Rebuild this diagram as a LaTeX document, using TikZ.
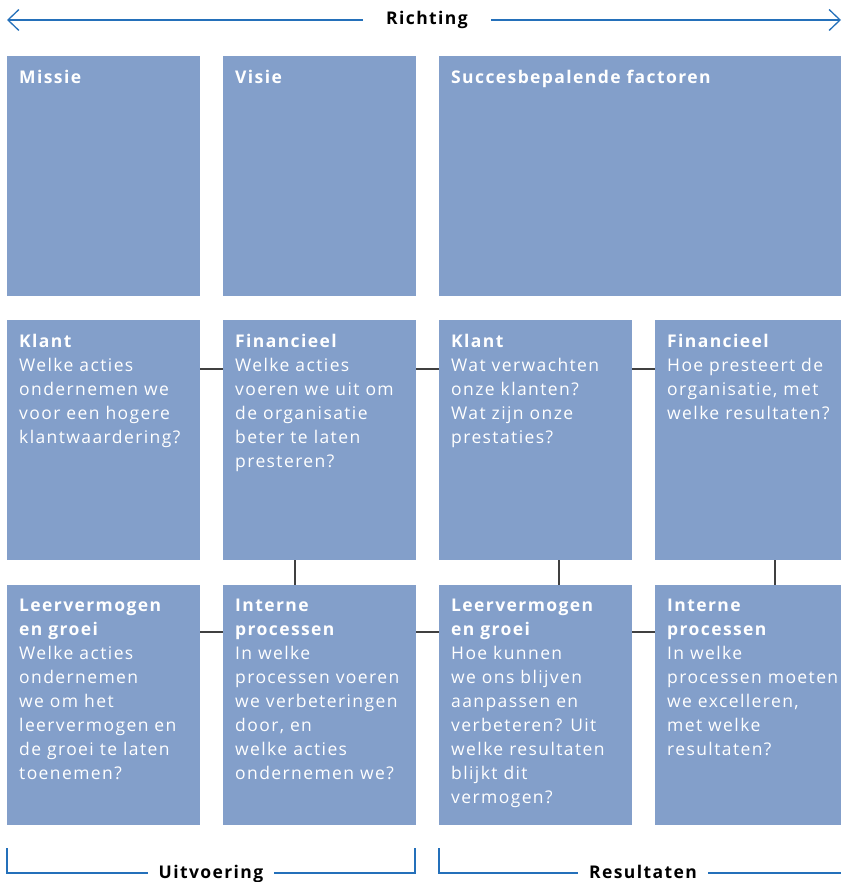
\documentclass[tikz,border=0pt]{standalone}
\usepackage{fontspec}
\setmainfont{Open Sans}[LetterSpace=8]
\usetikzlibrary{arrows.meta,positioning,calc}
\usepackage{xcolor}
\definecolor{vakblauw}{RGB}{131,159,202}
\definecolor{lijnblauw}{RGB}{36,112,186}
\definecolor{koppel}{RGB}{64,64,64}

\begin{document}
\begin{tikzpicture}[x=1pt,y=-1pt,
  vak/.style={rectangle,fill=vakblauw,anchor=north west,inner sep=0pt,
              minimum width=193pt,minimum height=240pt},
  vaktekst/.style={anchor=north west,inner sep=0pt,align=left,text=white,
                   font=\fontsize{17.5}{24}\selectfont},
  kop/.style={font=\fontsize{17.5}{24}\selectfont\bfseries,inner ysep=0pt},
  pijl/.style={-{Straight Barb[length=11pt,width=21pt]},line width=1.3pt,draw=lijnblauw},
  haak/.style={line width=1.4pt,draw=lijnblauw},
  koppeling/.style={line width=1.6pt,draw=koppel}
]
  \useasboundingbox (0,0) rectangle (841,882);

  % Richting
  \node[kop,inner xsep=23pt] (richting) at (427,20) {Richting};
  \coordinate (richtingL) at (7,20);
  \coordinate (richtingR) at (841,20);
  \draw[pijl] (richting.west) -- (richtingL);
  \draw[pijl] (richting.east) -- (richtingR);

  % Bovenste rij
  \node[vak] (missie) at (7,56)   {};
  \node[vak] (visie)  at (223,56) {};
  \node[vak,minimum width=402pt] (succes) at (439,56) {};
  \node[vaktekst] (missie-t) at ([shift={(12pt,-14pt)}]missie.north west) {\textbf{Missie}};
  \node[vaktekst] (visie-t)  at ([shift={(12pt,-14pt)}]visie.north west)  {\textbf{Visie}};
  \node[vaktekst] (succes-t) at ([shift={(12pt,-14pt)}]succes.north west) {\textbf{Succesbepalende factoren}};

  % Middelste rij
  \node[vak] (klant1) at (7,320)   {};
  \node[vak] (fin1)   at (223,320) {};
  \node[vak] (klant2) at (439,320) {};
  \node[vak,minimum width=186pt] (fin2) at (655,320) {};
  \node[vaktekst] (klant1-t) at ([shift={(12pt,-14pt)}]klant1.north west)
    {\textbf{Klant}\\Welke acties\\ondernemen we\\voor een hogere\\klantwaardering?};
  \node[vaktekst] (fin1-t) at ([shift={(12pt,-14pt)}]fin1.north west)
    {\textbf{Financieel}\\Welke acties\\voeren we uit om\\de organisatie\\beter te laten\\presteren?};
  \node[vaktekst] (klant2-t) at ([shift={(12pt,-14pt)}]klant2.north west)
    {\textbf{Klant}\\Wat verwachten\\onze klanten?\\Wat zijn onze\\prestaties?};
  \node[vaktekst] (fin2-t) at ([shift={(12pt,-14pt)}]fin2.north west)
    {\textbf{Financieel}\\Hoe presteert de\\organisatie, met\\welke resultaten?};

  % Onderste rij
  \node[vak] (leer1)   at (7,585)   {};
  \node[vak] (intern1) at (223,585) {};
  \node[vak] (leer2)   at (439,585) {};
  \node[vak,minimum width=186pt] (intern2) at (655,585) {};
  \node[vaktekst] (leer1-t) at ([shift={(12pt,-14pt)}]leer1.north west)
    {\textbf{Leervermogen}\\\textbf{en groei}\\Welke acties\\ondernemen\\we om het\\leervermogen en\\de groei te laten\\toenemen?};
  \node[vaktekst] (intern1-t) at ([shift={(12pt,-14pt)}]intern1.north west)
    {\textbf{Interne}\\\textbf{processen}\\In welke\\processen voeren\\we verbeteringen\\door, en\\welke acties\\ondernemen we?};
  \node[vaktekst] (leer2-t) at ([shift={(12pt,-14pt)}]leer2.north west)
    {\textbf{Leervermogen}\\\textbf{en groei}\\Hoe kunnen\\we ons blijven\\aanpassen en\\verbeteren? Uit\\welke resultaten\\blijkt dit\\vermogen?};
  \node[vaktekst] (intern2-t) at ([shift={(12pt,-14pt)}]intern2.north west)
    {\textbf{Interne}\\\textbf{processen}\\In welke\\processen moeten\\we excelleren,\\met welke\\resultaten?};

  % Koppelingen horizontaal
  \draw[koppeling] ([yshift=-49pt]klant1.north east) -- ([yshift=-49pt]fin1.north west);
  \draw[koppeling] ([yshift=-49pt]fin1.north east)   -- ([yshift=-49pt]klant2.north west);
  \draw[koppeling] ([yshift=-49pt]klant2.north east) -- ([yshift=-49pt]fin2.north west);
  \draw[koppeling] ([yshift=-47pt]leer1.north east)   -- ([yshift=-47pt]intern1.north west);
  \draw[koppeling] ([yshift=-47pt]intern1.north east) -- ([yshift=-47pt]leer2.north west);
  \draw[koppeling] ([yshift=-47pt]leer2.north east)   -- ([yshift=-47pt]intern2.north west);

  % Koppelingen verticaal
  \draw[koppeling] ([xshift=72pt]fin1.south west)   -- ([xshift=72pt]intern1.north west);
  \draw[koppeling] ([xshift=120pt]klant2.south west) -- ([xshift=120pt]leer2.north west);
  \draw[koppeling] ([xshift=120pt]fin2.south west)   -- ([xshift=120pt]intern2.north west);

  % Uitvoering
  \node[kop,inner xsep=11pt,anchor=base] (uitvoering) at (211,878) {Uitvoering};
  \coordinate (uitL) at (7,848);
  \coordinate (uitR) at (415,848);
  \draw[haak] (uitL) |- ([yshift=5pt]uitvoering.base west);
  \draw[haak] ([yshift=5pt]uitvoering.base east) -| (uitR);

  % Resultaten
  \node[kop,inner xsep=11pt,anchor=base] (resultaten) at (643,878) {Resultaten};
  \coordinate (resL) at (439,848);
  \coordinate (resR) at (841,873);
  \draw[haak] (resL) |- ([yshift=5pt]resultaten.base west);
  \draw[haak] ([yshift=5pt]resultaten.base east) -- (resR);
\end{tikzpicture}
\end{document}
